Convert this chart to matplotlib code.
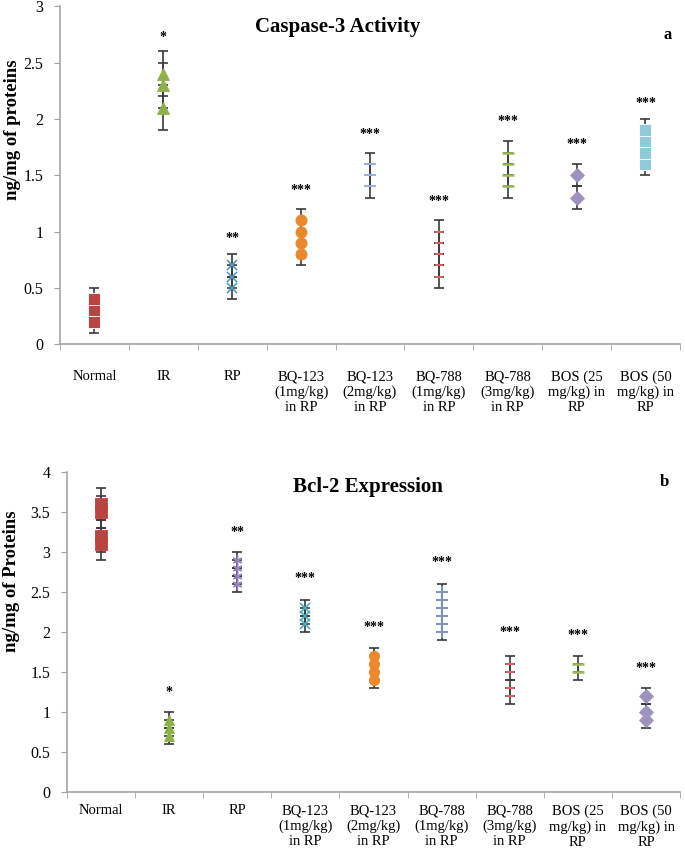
import matplotlib
matplotlib.use('Agg')
from matplotlib import pyplot as plt

plt.rcParams['font.family'] = ['Liberation Serif', 'DejaVu Serif']

groups = ['Normal', 'IR', 'RP', 'BQ-123\n(1mg/kg)\nin RP', 'BQ-123\n(2mg/kg)\nin RP',
          'BQ-788\n(1mg/kg)\nin RP', 'BQ-788\n(3mg/kg)\nin RP', 'BOS (25\nmg/kg) in\nRP',
          'BOS (50\nmg/kg) in\nRP']

# panel a: caspase-3 activity, individual values per group
casp_values = [
    [0.2, 0.3, 0.4],
    [2.1, 2.3, 2.4],
    [0.5, 0.6, 0.7],
    [0.8, 0.9, 1.0, 1.1],
    [1.4, 1.5, 1.6],
    [0.6, 0.7, 0.8, 0.9, 1.0],
    [1.4, 1.5, 1.6, 1.7],
    [1.3, 1.5],
    [1.6, 1.7, 1.8, 1.9],
]
casp_err = [0.1, 0.2, 0.1, 0.1, 0.1, 0.1, 0.1, 0.1, 0.1]
casp_stars = ['', '*', '**', '***', '***', '***', '***', '***', '***']
casp_star_y = [None, 2.72, 0.94, 1.36, 1.86, 1.27, 1.98, 1.77, 2.14]

# panel b: Bcl-2 expression
bcl_values = [
    [3.1, 3.2, 3.5, 3.6],
    [0.7, 0.8, 0.9],
    [2.6, 2.7, 2.8, 2.9],
    [2.1, 2.2, 2.3],
    [1.4, 1.5, 1.6, 1.7],
    [2.0, 2.1, 2.2, 2.3, 2.4, 2.5],
    [1.2, 1.3, 1.5, 1.6],
    [1.5, 1.6],
    [0.9, 1.0, 1.2],
]
bcl_err = [0.2, 0.1, 0.1, 0.1, 0.1, 0.1, 0.1, 0.1, 0.1]
bcl_stars = ['', '*', '**', '***', '***', '***', '***', '***', '***']
bcl_star_y = [None, 1.25, 3.25, 2.67, 2.06, 2.87, 2.0, 1.96, 1.54]

casp_style = [
    dict(marker='s', color='#B94441', ms=8, mec='white'),
    dict(marker='^', color='#8DB04A', ms=8),
    dict(marker='x', color='#4F9BC4', ms=7, mew=1.2),
    dict(marker='o', color='#E8892F', ms=8),
    dict(marker='_', color='#95B3D7', ms=9, mew=1.5),
    dict(marker='_', color='#D9625E', ms=6, mew=1.5),
    dict(marker='_', color='#9BBB59', ms=9, mew=1.8),
    dict(marker='D', color='#A092BE', ms=7),
    dict(marker='s', color='#8FCAD9', ms=9, mec='white'),
]
bcl_style = [
    dict(marker='s', color='#B94441', ms=8),
    dict(marker='^', color='#8DB04A', ms=7),
    dict(marker=(6, 2, 0), color='#9A84C0', ms=7, mew=1.0),
    dict(marker='x', color='#4BACC6', ms=7, mew=1.2),
    dict(marker='o', color='#E8892F', ms=7.5),
    dict(marker='+', color='#7F96B8', ms=8, mew=1.5),
    dict(marker='_', color='#D9625E', ms=6, mew=1.5),
    dict(marker='_', color='#9BBB59', ms=9, mew=1.8),
    dict(marker='D', color='#A092BE', ms=7),
]


def draw_panel(ax, values, errs, styles, stars, star_y, ylim, ystep, pad):
    for i, (vals, e, st) in enumerate(zip(values, errs, styles)):
        x = [i] * len(vals)
        ax.errorbar(x, vals, yerr=e, fmt='none', ecolor='#3a3a3a', elinewidth=1.2,
                    capsize=3.5, capthick=1.2, zorder=2)
        ax.plot(x, vals, linestyle='none', marker=st['marker'], color=st['color'],
                markersize=st['ms'], markeredgewidth=st.get('mew', 0.6),
                markeredgecolor=st.get('mec', st['color']), zorder=3)
        if stars[i]:
            ax.text(i, star_y[i], stars[i], ha='center', va='center', fontsize=10,
                    fontweight='bold')
    ax.set_xlim(-0.5, len(values) - 0.5)
    ax.set_ylim(*ylim)
    yt = [round(ystep * k, 2) for k in range(int(round(ylim[1] / ystep)) + 1)]
    ax.set_yticks(yt)
    ax.set_yticklabels(['%g' % t for t in yt])
    ax.set_xticks(range(len(values)))
    ax.set_xticklabels(groups, fontsize=10.5, linespacing=1.2)
    ax.set_xticks([k - 0.5 for k in range(len(values) + 1)], minor=True)
    ax.tick_params(axis='x', which='major', length=0, pad=pad)
    ax.tick_params(axis='x', which='minor', length=4, color='#a0a0a0')
    ax.tick_params(axis='y', length=4, color='#a0a0a0', labelsize=11.5, pad=8)
    for s in ['top', 'right']:
        ax.spines[s].set_visible(False)
    for s in ['left', 'bottom']:
        ax.spines[s].set_color('#a6a6a6')
        ax.spines[s].set_linewidth(1.2)


fig = plt.figure(figsize=(6.85, 8.59), dpi=100)
ax1 = fig.add_axes([0.0876, 0.5995, 0.905, 0.393])
ax2 = fig.add_axes([0.0978, 0.078, 0.895, 0.3725])

draw_panel(ax1, casp_values, casp_err, casp_style, casp_stars, casp_star_y,
           (0, 3), 0.5, 19)
draw_panel(ax2, bcl_values, bcl_err, bcl_style, bcl_stars, bcl_star_y,
           (0, 4), 0.5, 9)

ax1.text(0.448, 0.938, 'Caspase-3 Activity', transform=ax1.transAxes, ha='center',
         va='center', fontsize=15, fontweight='bold')
ax1.text(0.98, 0.914, 'a', transform=ax1.transAxes, ha='center', va='center',
         fontsize=12, fontweight='bold')
ax2.text(0.491, 0.953, 'Bcl-2 Expression', transform=ax2.transAxes, ha='center',
         va='center', fontsize=15, fontweight='bold')
ax2.text(0.974, 0.969, 'b', transform=ax2.transAxes, ha='center', va='center',
         fontsize=12, fontweight='bold')

fig.text(13 / 685, 1 - 130 / 859, 'ng/mg of proteins', rotation=90, ha='center',
         va='center', fontsize=13.5, fontweight='bold')
fig.text(12 / 685, 1 - 581 / 859, 'ng/mg of Proteins', rotation=90, ha='center',
         va='center', fontsize=13.5, fontweight='bold')

fig.savefig('out.png', dpi=100)
